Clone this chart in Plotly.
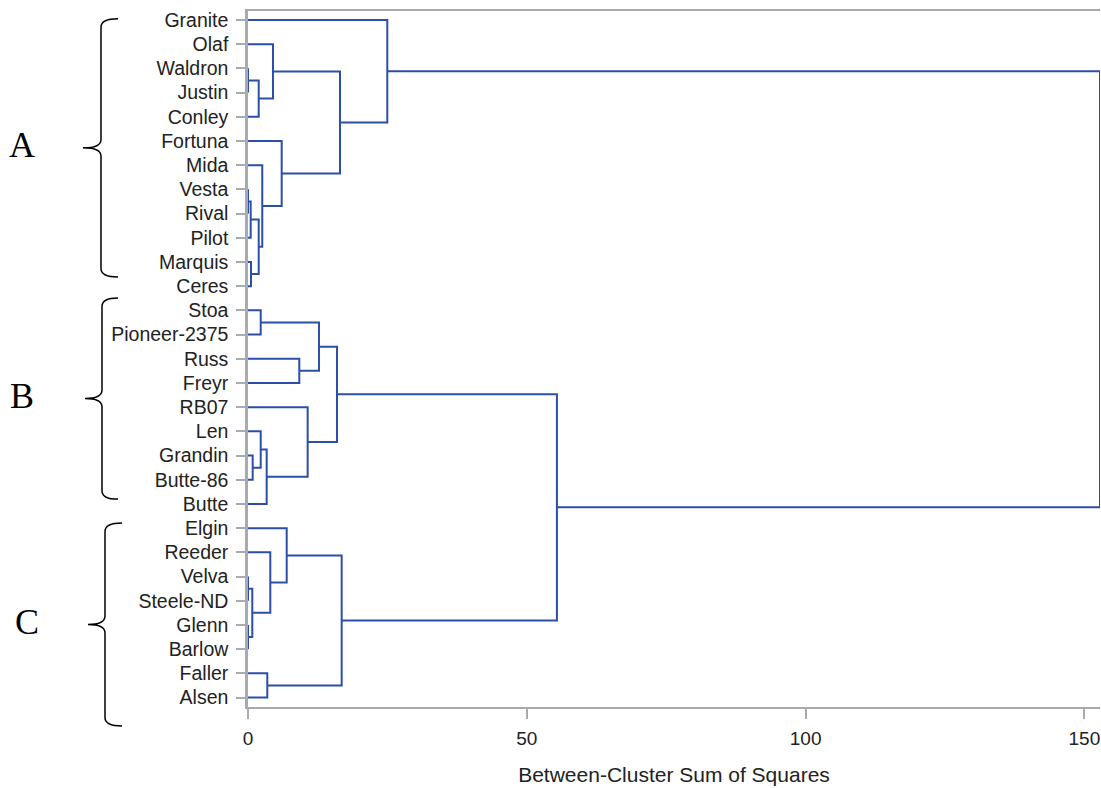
import plotly.graph_objects as go

# Leaf order, top to bottom
leaves = ["Granite", "Olaf", "Waldron", "Justin", "Conley", "Fortuna", "Mida",
          "Vesta", "Rival", "Pilot", "Marquis", "Ceres", "Stoa", "Pioneer-2375",
          "Russ", "Freyr", "RB07", "Len", "Grandin", "Butte-86", "Butte",
          "Elgin", "Reeder", "Velva", "Steele-ND", "Glenn", "Barlow", "Faller",
          "Alsen"]

# Merge steps: children are leaf names or "m<k>" for the k-th merge
merge_left = ["Waldron", "m0", "Olaf", "Vesta", "m3", "Marquis", "m4", "Mida",
              "Fortuna", "m2", "Granite", "Stoa", "Russ", "m11", "Grandin", "Len",
              "m15", "RB07", "m13", "Velva", "Glenn", "m19", "Reeder", "Elgin",
              "Faller", "m23", "m18", "m10"]
merge_right = ["Justin", "Conley", "m1", "Rival", "Pilot", "Ceres", "m5", "m6",
               "m7", "m8", "m9", "Pioneer-2375", "Freyr", "m12", "Butte-86", "m14",
               "Butte", "m16", "m17", "Steele-ND", "Barlow", "m20", "m21", "m22",
               "Alsen", "m24", "m25", "m26"]
merge_height = [0.0, 1.92, 4.48, 0.0, 0.48, 0.54, 1.92, 2.56, 6.04, 16.5, 24.98,
                2.28, 9.2, 12.73, 0.84, 2.28, 3.35, 10.7, 15.96, 0.0, 0.0, 0.77,
                4.0, 6.94, 3.46, 16.8, 55.4, 152.8]

x_ticks = [0, 50, 100, 150]
x_title = "Between-Cluster Sum of Squares"

# Group brackets on the left: label, first leaf, last leaf
groups = [("A", "Granite", "Ceres"), ("B", "Stoa", "Butte"), ("C", "Elgin", "Alsen")]

# Node positions: (height, y)
pos = {name: (0.0, float(i)) for i, name in enumerate(leaves)}
xs, ys = [], []
for k, (a, b, h) in enumerate(zip(merge_left, merge_right, merge_height)):
    ha, ya = pos[a]
    hb, yb = pos[b]
    xs += [ha, h, h, hb, None]
    ys += [ya, ya, yb, yb, None]
    pos[f"m{k}"] = (h, (ya + yb) / 2)

LINE = "#2B4FA9"
AXIS = "#A7ABAF"
TEXT = "#222222"

fig = go.Figure()
fig.add_trace(go.Scatter(x=xs, y=ys, mode="lines",
                         line=dict(color=LINE, width=2),
                         hoverinfo="skip", showlegend=False))

W, H = 1101, 788
L, R, T, B = 248, 1, 11, 81
x_max = 152.8
n = len(leaves)
y_top, y_bot = -0.37, (n - 1) + 0.39

fig.update_layout(
    width=W, height=H,
    margin=dict(l=L, r=R, t=T, b=B),
    plot_bgcolor="white", paper_bgcolor="white",
    font=dict(family="Liberation Sans, Arial, sans-serif", size=19, color=TEXT),
    showlegend=False,
)
fig.update_xaxes(
    range=[0, x_max], tickvals=x_ticks, ticktext=[str(v) for v in x_ticks],
    showgrid=False, zeroline=False,
    showline=True, linecolor=AXIS, linewidth=1.5, mirror=True,
    ticks="outside", ticklen=10, tickcolor=AXIS, tickwidth=1.5,
    tickfont=dict(size=19, color=TEXT), ticklabelstandoff=3,
    title=dict(text=x_title, font=dict(size=21, color=TEXT), standoff=20),
)
fig.update_yaxes(
    range=[y_bot, y_top], tickvals=list(range(n)), ticktext=leaves,
    showgrid=False, zeroline=False,
    showline=True, linecolor=AXIS, linewidth=2.5,
    ticks="outside", ticklen=9, tickcolor=AXIS, tickwidth=1.5,
    tickfont=dict(size=19.5, color=TEXT), ticklabelstandoff=4,
)

# Brackets drawn in paper space, measured from the plot's left edge
plot_w = W - L - R
plot_h = H - T - B


def to_paper(px, yv):
    return (px - L) / plot_w, 1 - (yv - y_top) / (y_bot - y_top)


brace_specs = [  # (x of stem, x of tip, x of ends, extension above, extension below, label x)
    (101, 83, 118, 0.05, -0.38, 22),
    (102, 85, 118, 0.51, -0.2, 22),
    (105, 88, 122, 0.21, 1.17, 27),
]
for (label, first, last), (xs_, xt, xe, up, down, lx) in zip(groups, brace_specs):
    y0 = leaves.index(first) - up
    y1 = leaves.index(last) + down
    ym = (y0 + y1) / 2
    r = 0.35
    p = []
    pts = [
        ("M", (xe, y0)),
        ("Q", (xs_, y0), (xs_, y0 + r)),
        ("L", (xs_, ym - r)),
        ("Q", (xs_, ym), (xt, ym)),
        ("Q", (xs_, ym), (xs_, ym + r)),
        ("L", (xs_, y1 - r)),
        ("Q", (xs_, y1), (xe, y1)),
    ]
    for cmd, *coords in pts:
        s = cmd
        for (cx, cy) in coords:
            u, v = to_paper(cx, cy)
            s += f" {u:.5f},{v:.5f}"
        p.append(s)
    fig.add_shape(type="path", path=" ".join(p), xref="paper", yref="paper",
                  line=dict(color="black", width=1.5))
    u, v = to_paper(lx, ym - 0.1)
    fig.add_annotation(x=u, y=v, xref="paper", yref="paper", text=label,
                       showarrow=False, xanchor="center", yanchor="middle",
                       font=dict(family="Liberation Serif, Times New Roman, serif",
                                 size=36, color="black"))

fig.write_html("out.html")
